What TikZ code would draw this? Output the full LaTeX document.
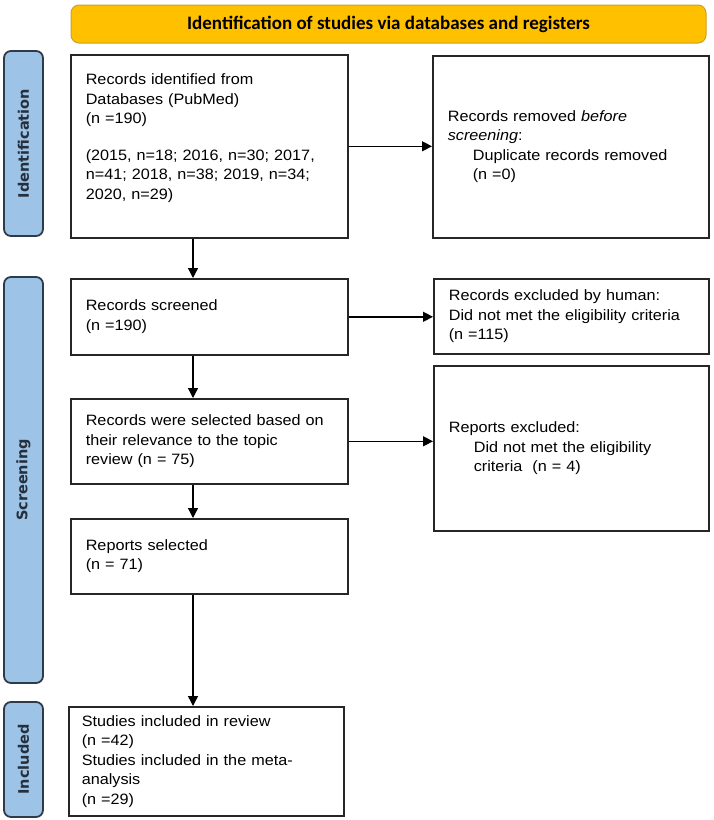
\documentclass[tikz,border=0pt]{standalone}
\usepackage{fontspec}
\setmainfont{Liberation Sans}[FakeStretch=1.08]
\newfontfamily\tabfont{DejaVu Sans}
\newfontfamily\bannerfont{Carlito}
\usepackage{xcolor}
\usetikzlibrary{arrows.meta}
\definecolor{banner}{HTML}{FFC000}
\definecolor{bannerline}{HTML}{C9A227}
\definecolor{tabfill}{HTML}{9DC3E6}
\definecolor{tabline}{HTML}{2F3A4A}
\definecolor{tabtext}{HTML}{262F3C}

\begin{document}
\begin{tikzpicture}[x=1pt,y=-1pt,
	box/.style={draw=black!85,line width=1.6pt,inner xsep=15pt,inner ysep=0pt,text width=247pt,align=left,anchor=north west,font=\fontsize{15}{19.5}\selectfont},
	tab/.style={draw=tabline,fill=tabfill,line width=1.8pt,rounded corners=7pt,rotate=90,minimum height=39pt,text=tabtext,font=\tabfont\bfseries\fontsize{14.5}{16}\selectfont},
	arr/.style={line width=1.4pt,-{Triangle[length=10pt,width=10pt]}}]
	\useasboundingbox (0,0) rectangle (713,820);

	\node[draw=bannerline,fill=banner,rounded corners=8pt,line width=1pt,minimum width=635pt,minimum height=38pt,font=\bannerfont\bfseries\fontsize{19}{21}\selectfont] (title) at (388.5,24) {Identification of studies via databases and registers};

	\node[tab,minimum width=185pt] (tabid) at (23.5,143.5) {Identification};
	\node[tab,minimum width=406pt] (tabscr) at (23.5,480) {Screening};
	\node[tab,minimum width=115pt] (tabinc) at (23.5,759.5) {Included};

	\node[box,minimum height=183pt] (idrec) at (70,54) {Records identified from\\Databases (PubMed)\\(n =190)\\[17pt](2015, n=18; 2016, n=30; 2017,\\n=41; 2018, n=38; 2019, n=34;\\2020, n=29)\\\mbox{}};
	\node[box,minimum height=182pt,text width=246pt] (remdup) at (432,55) {Records removed \textit{before}\\\textit{screening}:\\\hspace*{25pt}Duplicate records removed\\\hspace*{25pt}(n =0)};

	\node[box,minimum height=76pt] (screen) at (70,278) {Records screened\\(n =190)};
	\node[box,minimum height=75pt,text width=245pt] (exhum) at (433,278) {Records excluded by human:\\Did not met the eligibility criteria\\(n =115)};

	\node[box,minimum height=85pt] (select) at (70,398) {Records were selected based on\\their relevance to the topic\\review (n = 75)};
	\node[box,minimum height=165pt,text width=245pt] (repex) at (433,365) {Reports excluded:\\\hspace*{25pt}Did not met the eligibility\\\hspace*{25pt}criteria\ \ (n = 4)};

	\node[box,minimum height=75pt] (repsel) at (70,518) {Reports selected\\(n = 71)};
	\node[box,minimum height=109pt,inner xsep=13pt,text width=249pt] (incl) at (68,706) {Studies included in review\\(n =42)\\Studies included in the meta-\\analysis\\(n =29)};

	\coordinate (col) at (193,0);
	\foreach \a/\b in {idrec/screen,screen/select,select/repsel,repsel/incl}
		\draw[arr] (\a.south -| col) -- (\b.north -| col);
	\foreach \a/\b in {idrec/remdup,screen/exhum,select/repex}
		\draw[arr] (\a.east) -- (\a.east -| \b.west);
\end{tikzpicture}
\end{document}
